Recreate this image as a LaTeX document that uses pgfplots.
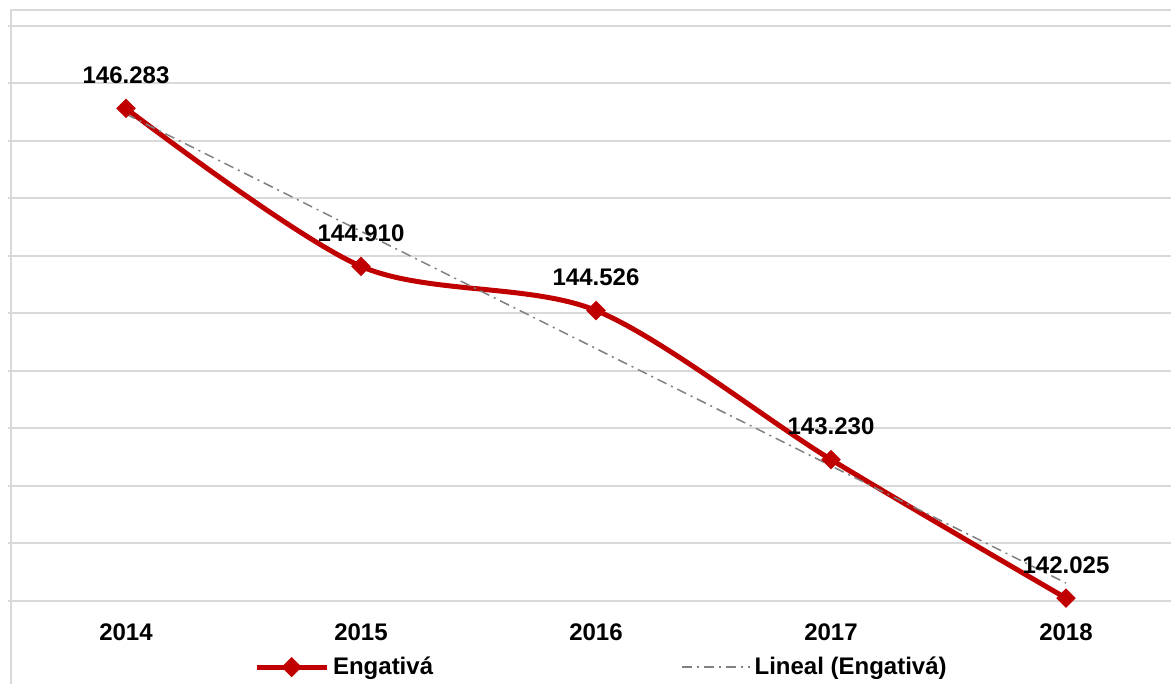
\documentclass[border=0pt]{standalone}
\usepackage{pgfplots}
\pgfplotsset{compat=1.18}
\usepackage{fontspec}
\setmainfont{Liberation Sans}
\definecolor{exred}{HTML}{C00000}
\definecolor{gridc}{HTML}{D9D9D9}
\definecolor{trendc}{HTML}{808080}
\newcommand{\lblfont}{\fontsize{12}{14}\selectfont\bfseries}
\begin{document}
\begin{tikzpicture}
\useasboundingbox (0pt,0pt) rectangle (585.5pt,342pt);
\clip (0pt,0pt) rectangle (585.5pt,342pt);
\draw[gridc, line width=1pt] (5.5pt,-5pt) -- (5.5pt,337pt) -- (600pt,337pt);
\begin{axis}[
  at={(4.25pt,41.5pt)}, anchor=south west,
  scale only axis, width=587.5pt, height=287.5pt,
  xmin=-0.5, xmax=4.5, ymin=142000, ymax=147000,
  ytick={142000,142500,143000,143500,144000,144500,145000,145500,146000,146500,147000},
  yticklabels={}, scaled y ticks=false,
  ymajorgrids, grid style={gridc, line width=1pt},
  axis line style={draw=none},
  xtick={0,1,2,3,4},
  xticklabels={2014,2015,2016,2017,2018},
  major tick length=0pt,
  xticklabel style={font=\lblfont, inner sep=0pt, anchor=north, yshift=-11pt},
  clip=false,
  legend columns=2,
  legend style={at={(axis description cs:0.209,-0.1150)}, anchor=west,
    draw=none, fill=none, inner sep=0pt, outer sep=0pt,
    nodes={inner sep=0pt, font=\lblfont},
    /tikz/every odd column/.append style={column sep=2pt},
    /tikz/every even column/.append style={column sep=124pt}},
]
\addplot[exred, line width=2.5pt, smooth, tension=0.5,
  mark=square*, mark size=3.2pt,
  mark options={rotate=45, fill=exred, draw=exred, line width=0.5pt, solid},
  nodes near coords, point meta=explicit symbolic,
  every node near coord/.append style={font=\lblfont, text=black, anchor=south, inner sep=0pt, yshift=12pt},
  legend image code/.code={
    \draw[exred, line width=2.5pt] (0pt,0pt) -- (35pt,0pt);
    \fill[exred] (17.5pt,3.3pt) -- (20.8pt,0pt) -- (17.5pt,-3.3pt) -- (14.2pt,0pt) -- cycle;}
] coordinates {
  (0,146283) [146.283]
  (1,144910) [144.910]
  (2,144526) [144.526]
  (3,143230) [143.230]
  (4,142025) [142.025]
};
\addlegendentry{Engativá}
\addplot[trendc, line width=0.75pt, dash pattern=on 5pt off 2.5pt on 1pt off 2.5pt,
  legend image code/.code={
    \draw[trendc, line width=0.75pt, dash pattern=on 5pt off 2.5pt on 1pt off 2.5pt] (0pt,0pt) -- (34pt,0pt);}
] coordinates {
  (0,146234)
  (4,142156)
};
\addlegendentry{Lineal (Engativá)}
\end{axis}
\end{tikzpicture}
\end{document}
